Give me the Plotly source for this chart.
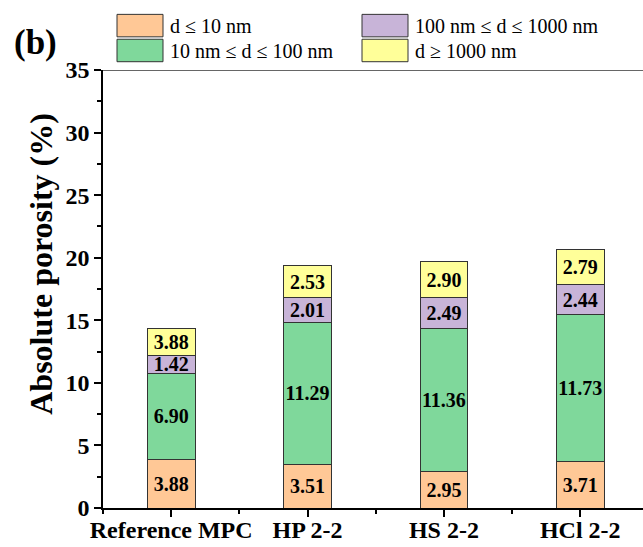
import plotly.graph_objects as go

categories = ["Reference MPC", "HP 2-2", "HS 2-2", "HCl 2-2"]
series_names = ["d \u2264 10 nm", "10 nm \u2264 d \u2264 100 nm", "100 nm \u2264 d \u2264 1000 nm", "d \u2265 1000 nm"]
colors = ["#FFC896", "#7FD89B", "#C8B4D8", "#FFFF99"]

# drawn segment heights
small_vals = [3.88, 3.51, 2.95, 3.71]
meso_vals = [6.90, 11.29, 11.36, 11.73]
macro_vals = [1.42, 2.01, 2.49, 2.44]
large_vals = [2.12, 2.53, 2.90, 2.79]
# printed labels (as in the original figure)
small_labels = ["3.88", "3.51", "2.95", "3.71"]
meso_labels = ["6.90", "11.29", "11.36", "11.73"]
macro_labels = ["1.42", "2.01", "2.49", "2.44"]
large_labels = ["3.88", "2.53", "2.90", "2.79"]

y_ticks = [0, 5, 10, 15, 20, 25, 30, 35]
y_title = "Absolute porosity (%)"

W, H = 643, 547
L, R, T, B = 103, 0, 70, 38.5
PW, PH = W - L - R, H - T - B

FONT = "Liberation Serif, Times New Roman, serif"

x = list(range(len(categories)))
fig = go.Figure()
for name, col, vals, labs in zip(series_names, colors,
                                 [small_vals, meso_vals, macro_vals, large_vals],
                                 [small_labels, meso_labels, macro_labels, large_labels]):
    fig.add_trace(go.Bar(
        x=x, y=vals, name=name, text=labs, texttemplate="%{text}",
        textposition="inside", insidetextanchor="middle", textangle=0,
        constraintext="none",
        textfont=dict(family=FONT, size=20, color="black", weight="bold"),
        marker=dict(color=col, line=dict(color="#333333", width=1)),
        width=0.35, showlegend=False, cliponaxis=False,
    ))

shapes = []
annotations = []
# top frame line
shapes.append(dict(type="line", xref="paper", yref="y", x0=0, x1=1, y0=35, y1=35,
                   line=dict(color="#333333", width=1.5)))


def px_x(p):
    return (p - L) / PW


def px_y(p):
    return (H - B - p) / PH


# manual legend (2 columns, row-wise as in original)
legend_pos = [(117, 14.3), (117, 39.2), (362, 14.3), (362, 39.2)]
for (bx, by), name, col in zip(legend_pos, series_names, colors):
    shapes.append(dict(type="rect", xref="paper", yref="paper",
                       x0=px_x(bx), x1=px_x(bx + 46), y0=px_y(by), y1=px_y(by + 22.5),
                       fillcolor=col, line=dict(color="#333333", width=1)))
    annotations.append(dict(xref="paper", yref="paper", x=px_x(bx + 51), y=px_y(by + 11.5),
                            text=name, showarrow=False, xanchor="left", yanchor="middle",
                            font=dict(family=FONT, size=20, color="black")))

annotations.append(dict(xref="paper", yref="paper", x=px_x(35), y=px_y(42), text="<b>(b)</b>",
                        showarrow=False, xanchor="center", yanchor="middle",
                        font=dict(family=FONT, size=35, color="black")))
# y-axis title (placed as in the original, slightly above centre)
annotations.append(dict(xref="paper", yref="paper", x=px_x(41), y=px_y(264),
                        text=f"<b>{y_title}</b>", textangle=-90, showarrow=False,
                        xanchor="center", yanchor="middle",
                        font=dict(family=FONT, size=32, color="black")))

fig.update_layout(
    width=W, height=H, barmode="stack",
    margin=dict(l=L, r=R, t=T, b=B, autoexpand=False),
    paper_bgcolor="white", plot_bgcolor="white",
    font=dict(family=FONT, color="black"),
    shapes=shapes, annotations=annotations,
    xaxis=dict(
        range=[-0.5, 3.46], tickvals=x, ticktext=[f"<b>{c}</b>" for c in categories],
        tickfont=dict(family=FONT, size=24, color="black"),
        showline=True, linecolor="black", linewidth=1.5, showgrid=False, zeroline=False,
        ticks="outside", ticklen=7, tickwidth=1.5, tickcolor="black",
        ticklabelstandoff=-8,
        minor=dict(tickvals=[-0.5, 0.5, 1.5, 2.5], ticks="outside", ticklen=4, tickwidth=1.5, tickcolor="black"),
        automargin=False,
    ),
    yaxis=dict(
        range=[0, 35], tickvals=y_ticks, ticktext=[f"<b>{v}</b>" for v in y_ticks],
        tickfont=dict(family=FONT, size=24, color="black"),
        showline=True, linecolor="black", linewidth=1.5, showgrid=False, zeroline=False,
        ticks="outside", ticklen=7, tickwidth=1.5, tickcolor="black",
        minor=dict(dtick=2.5, tick0=0, ticks="outside", ticklen=4, tickwidth=1.5, tickcolor="black"),
        automargin=False,
    ),
)

fig.write_html("out.html")
